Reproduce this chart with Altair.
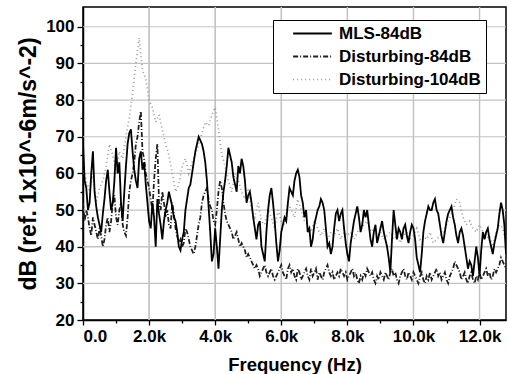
import altair as alt
import pandas as pd

# Values at whole hundreds of Hz, plus values read in between (x50 Hz).
freq = list(range(0, 12801, 100))
freq_mid = list(range(50, 12800, 100))

mls = [68, 56, 52, 66, 51, 46, 49, 58, 55, 52,
       67, 63, 47, 62, 71, 66, 58, 64, 61, 57,
       47, 52, 40, 49, 42, 50, 55, 51, 47, 40,
       42, 50, 56, 60, 66, 70, 68, 63, 51, 36,
       45, 34, 50, 58, 67, 63, 57, 62, 64, 58,
       54, 52, 45, 46, 40, 36, 50, 56, 47, 36,
       44, 48, 52, 55, 58, 61, 54, 48, 44, 40,
       46, 50, 53, 50, 40, 38, 45, 50, 49, 45,
       38, 41, 47, 51, 44, 50, 50, 42, 44, 41,
       45, 44, 40, 33, 50, 42, 44, 45, 43, 44,
       45, 37, 33, 44, 49, 50, 52, 50, 46, 41,
       47, 50, 48, 43, 44, 43, 37, 36, 32, 40,
       32, 44, 44, 42, 38, 43, 49, 50, 38]

mls_mid = [58, 50, 60, 55, 48, 44, 53, 61, 50, 58,
           60, 52, 55, 68, 72, 61, 56, 66, 63, 52,
           45, 48, 53, 46, 47, 52, 53, 48, 44, 39,
           44, 53, 57, 63, 68, 69, 66, 58, 44, 38,
           40, 42, 55, 62, 65, 59, 55, 60, 62, 52,
           55, 48, 42, 47, 38, 44, 54, 52, 41, 39,
           46, 47, 56, 54, 60, 59, 52, 50, 45, 42,
           48, 51, 52, 45, 41, 40, 49, 47, 50, 41,
           36, 44, 49, 48, 46, 48, 46, 40, 46, 43,
           47, 42, 37, 42, 46, 45, 42, 46, 41, 46,
           42, 35, 38, 47, 51, 50, 53, 49, 43, 44,
           49, 51, 46, 41, 45, 40, 34, 35, 36, 37,
           39, 42, 45, 40, 41, 45, 52, 46]

d84 = [52, 50, 45, 48, 44, 45, 40, 46, 44, 52,
       48, 50, 46, 43, 55, 60, 68, 74, 66, 60,
       56, 50, 64, 52, 55, 48, 46, 52, 45, 41,
       40, 45, 42, 39, 40, 46, 52, 55, 53, 50,
       46, 55, 56, 49, 46, 44, 43, 42, 41, 39,
       38, 36, 34, 34, 33, 35, 32, 34, 31, 33,
       35, 32, 34, 33, 32, 34, 31, 33, 32, 34,
       33, 31, 32, 33, 35, 32, 31, 33, 34, 32,
       31, 33, 32, 31, 32, 33, 34, 32, 31, 32,
       33, 31, 32, 33, 32, 31, 32, 34, 31, 32,
       33, 31, 32, 31, 32, 33, 32, 34, 33, 32,
       31, 32, 34, 35, 33, 32, 31, 32, 31, 32,
       33, 32, 34, 33, 32, 33, 35, 36, 34]

d84_mid = [47, 48, 43, 46, 42, 43, 42, 48, 47, 54,
           46, 52, 44, 48, 58, 63, 70, 77, 64, 58,
           53, 58, 68, 50, 52, 50, 45, 49, 43, 42,
           41, 44, 40, 38, 43, 48, 54, 56, 51, 47,
           50, 58, 52, 47, 45, 42, 44, 40, 40, 37,
           37, 35, 35, 32, 34, 33, 33, 32, 32, 34,
           33, 31, 35, 34, 31, 33, 32, 34, 31, 32,
           34, 33, 31, 34, 33, 33, 32, 32, 33, 33,
           32, 34, 33, 30, 31, 32, 33, 33, 30, 31,
           32, 33, 31, 34, 33, 30, 33, 32, 33, 31,
           32, 30, 33, 30, 31, 31, 33, 32, 31, 33,
           30, 33, 36, 34, 31, 33, 30, 33, 30, 31,
           31, 33, 32, 31, 34, 34, 37, 35]

d104 = [62, 58, 55, 60, 52, 56, 58, 62, 68, 65,
        60, 66, 64, 70, 75, 82, 90, 97, 88, 86,
        80, 78, 74, 76, 72, 68, 65, 60, 55, 57,
        62, 64, 60, 63, 65, 68, 71, 74, 73, 76,
        78, 72, 65, 62, 58, 55, 60, 58, 55, 53,
        56, 50, 48, 52, 47, 46, 50, 48, 45, 50,
        47, 46, 52, 50, 48, 53, 50, 47, 46, 44,
        47, 45, 43, 45, 42, 44, 43, 45, 42, 44,
        43, 44, 42, 44, 45, 46, 47, 44, 45, 43,
        44, 42, 43, 44, 42, 43, 41, 43, 44, 42,
        43, 45, 42, 43, 42, 44, 41, 42, 43, 44,
        46, 48, 50, 53, 52, 48, 46, 47, 45, 44,
        46, 44, 42, 43, 40, 44, 46, 45, 41]

# Axis ranges and tick values (major ticks carry labels and grid lines)
x_dom = [0, 12800]
y_dom = [20, 105.4]
x_ticks = list(range(0, 12001, 1000))
y_ticks = list(range(20, 101, 5))
x_grid = [2000, 4000, 6000, 8000, 10000, 12000]
y_grid = [30, 40, 50, 60, 70, 80, 90, 100]

series_names = ["MLS-84dB", "Disturbing-84dB", "Disturbing-104dB"]
series_colors = ["#000000", "#1e1e1e", "#9a9a9a"]
series_dash = [[1, 0], [5, 2, 1, 2], [1, 3]]
series_width = [1.8, 1.1, 1.1]

# grid lines: two-point segments spanning the axis ranges, drawn in the same mark
grid_rows = []
grid_names = []
for gx in x_grid:
    name = f"Grid-x{gx}"
    grid_names.append(name)
    grid_rows.append({"f": gx, "db": y_dom[0], "series": name})
    grid_rows.append({"f": gx, "db": y_dom[1], "series": name})
for gy in y_grid:
    name = f"Grid-y{gy}"
    grid_names.append(name)
    grid_rows.append({"f": x_dom[0], "db": gy, "series": name})
    grid_rows.append({"f": x_dom[1], "db": gy, "series": name})

rows = list(grid_rows)
for name, pairs in [
    ("Disturbing-104dB", list(zip(freq, d104))),
    ("Disturbing-84dB", sorted(list(zip(freq, d84)) + list(zip(freq_mid, d84_mid)))),
    ("MLS-84dB", sorted(list(zip(freq, mls)) + list(zip(freq_mid, mls_mid)))),
]:
    for f, v in pairs:
        rows.append({"f": f, "db": v, "series": name})
df = pd.DataFrame(rows)

all_names = series_names + grid_names
all_colors = series_colors + ["#c2c2c2"] * len(grid_names)
all_dash = series_dash + [[1, 0]] * len(grid_names)
all_width = series_width + [1] * len(grid_names)

FONT = "Liberation Sans"

legend = alt.Legend(
    orient="none", legendX=190, legendY=13, title=None, values=series_names,
    labelFont=FONT, labelFontWeight="bold", labelFontSize=17, labelColor="black",
    labelLimit=300, symbolType="stroke", symbolSize=1500, symbolOffset=14,
    labelOffset=6, strokeColor="black", fillColor="white", padding=5,
    rowPadding=5, clipHeight=17,
)

x_major = "datum.value % 2000 === 0"
y_major = "datum.value % 10 === 0"

x_axis = alt.Axis(
    values=x_ticks,
    labelExpr="datum.value % 2000 === 0 ? (datum.value === 0 ? '0.0' : format(datum.value/1000, '.1f') + 'k') : ''",
    labelOverlap=False, labelFont=FONT, labelFontWeight="bold", labelFontSize=17,
    labelColor="black", labelPadding=3,
    tickSize={"condition": {"test": x_major, "value": 5}, "value": 3},
    tickColor="black", tickWidth=1.3, grid=False,
    domainColor="black", domainWidth=1.5,
    title="Frequency (Hz)", titleFont=FONT, titleFontWeight="bold",
    titleFontSize=18.5, titleColor="black", titlePadding=11,
)

y_axis = alt.Axis(
    values=y_ticks,
    labelExpr="datum.value % 10 === 0 ? datum.label : ''",
    labelOverlap=False, labelFont=FONT, labelFontWeight="bold", labelFontSize=17,
    labelColor="black", labelPadding=3,
    tickSize={"condition": {"test": y_major, "value": 6}, "value": 3},
    tickColor="black", tickWidth=1.3, grid=False,
    domainColor="black", domainWidth=1.5,
    title="dB (ref. 1x10^-6m/s^-2)", titleFont=FONT, titleFontWeight="bold",
    titleFontSize=23, titleColor="black", titlePadding=5,
)

chart = alt.Chart(df).mark_line(clip=True).encode(
    x=alt.X("f:Q", scale=alt.Scale(domain=x_dom, nice=False, zero=False), axis=x_axis, sort=None),
    y=alt.Y("db:Q", scale=alt.Scale(domain=y_dom, nice=False, zero=False), axis=y_axis),
    color=alt.Color("series:N", scale=alt.Scale(domain=all_names, range=all_colors), legend=legend),
    strokeDash=alt.StrokeDash("series:N", scale=alt.Scale(domain=all_names, range=all_dash), legend=legend),
    strokeWidth=alt.StrokeWidth("series:N", scale=alt.Scale(domain=all_names, range=all_width), legend=legend),
).properties(
    width=423, height=313,
    padding={"left": 83, "top": 7, "right": 2, "bottom": 54},
    autosize=alt.AutoSizeParams(type="none"),
    background="white",
).configure_view(stroke="black", strokeWidth=1.5)

chart.save("out.html", embed_options={"renderer": "svg", "actions": False})
